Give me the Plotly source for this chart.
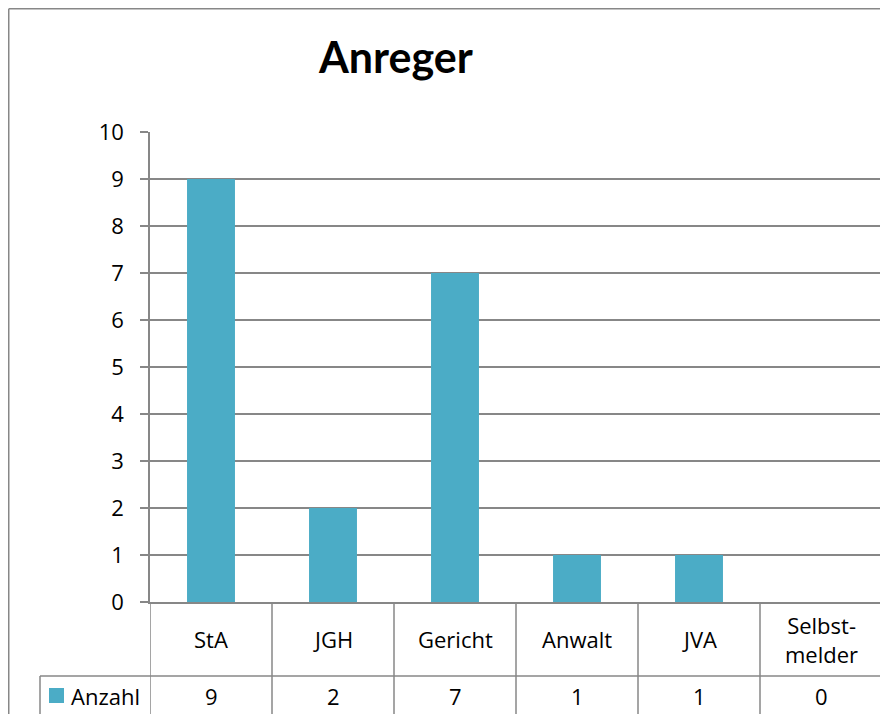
import plotly.graph_objects as go

# ---- data ----
categories = ["StA", "JGH", "Gericht", "Anwalt", "JVA", "Selbst-<br>melder"]
values = [9, 2, 7, 1, 1, 0]
series_name = "Anzahl"
title_text = "Anreger"
y_ticks = list(range(0, 11))

# ---- styling / layout constants ----
OFF = 8            # page body margin
W, H = 880, 706    # figure size so that page fits 888x714
BAR_COLOR = "#4BACC6"
LINE_COLOR = "#878787"
FONT = "Open Sans"
FS = 22

def px(x):
    return (x - OFF) / W

def py(y):
    return 1 - (y - OFF) / H

PLOT_L, PLOT_R, PLOT_T, PLOT_B = 150, 882, 132, 602
ROW1_B = 676  # bottom of category row
LEG_L = 40

fig = go.Figure()
fig.add_trace(go.Bar(
    x=list(range(len(categories))),
    y=values,
    name=series_name,
    marker=dict(color=BAR_COLOR, line=dict(width=0)),
    showlegend=False,
))

shapes = []
annotations = []

# outer chart border (top & left visible)
shapes.append(dict(type="line", xref="paper", yref="paper", x0=px(8.75), x1=px(900), y0=py(8.75), y1=py(8.75),
                   line=dict(color=LINE_COLOR, width=1.5)))
shapes.append(dict(type="line", xref="paper", yref="paper", x0=px(8.75), x1=px(8.75), y0=py(8.75), y1=py(730),
                   line=dict(color=LINE_COLOR, width=1.5)))

n = len(categories)
# data table vertical lines (category boundaries)
for i in range(n + 1):
    shapes.append(dict(type="line", xref="x", yref="paper", x0=i - 0.5, x1=i - 0.5,
                       y0=py(PLOT_B), y1=py(730), line=dict(color=LINE_COLOR, width=1.5)))
# horizontal line between category row and value row
shapes.append(dict(type="line", xref="paper", yref="paper", x0=px(LEG_L), x1=px(PLOT_R),
                   y0=py(ROW1_B), y1=py(ROW1_B), line=dict(color=LINE_COLOR, width=1.5)))
# legend cell left border
shapes.append(dict(type="line", xref="paper", yref="paper", x0=px(LEG_L), x1=px(LEG_L),
                   y0=py(ROW1_B), y1=py(730), line=dict(color=LINE_COLOR, width=1.5)))
# legend key
shapes.append(dict(type="rect", xref="paper", yref="paper", x0=px(49), x1=px(64), y0=py(688), y1=py(703),
                   fillcolor=BAR_COLOR, line=dict(width=0)))

for i, (c, v) in enumerate(zip(categories, values)):
    annotations.append(dict(x=i, xref="x", y=py((PLOT_B + ROW1_B) / 2), yref="paper", text=c,
                            showarrow=False, xanchor="center", yanchor="middle",
                            font=dict(family=FONT, size=FS, color="black")))
    annotations.append(dict(x=i, xref="x", y=py(696), yref="paper", text=str(v),
                            showarrow=False, xanchor="center", yanchor="middle",
                            font=dict(family=FONT, size=FS, color="black")))

annotations.append(dict(x=px(69), xref="paper", y=py(696), yref="paper", text=series_name,
                        showarrow=False, xanchor="left", yanchor="middle",
                        font=dict(family=FONT, size=FS, color="black")))
annotations.append(dict(x=px(395), xref="paper", y=py(57), yref="paper", text="<b>" + title_text + "</b>",
                        showarrow=False, xanchor="center", yanchor="middle",
                        font=dict(family="Lato", size=43, color="black")))

fig.update_layout(
    width=W, height=H,
    margin=dict(l=0, r=0, t=0, b=0, autoexpand=False),
    paper_bgcolor="white", plot_bgcolor="white",
    bargap=0.607,
    shapes=shapes,
    annotations=annotations,
    xaxis=dict(domain=[px(PLOT_L), px(PLOT_R)], range=[-0.5, n - 0.5], automargin=False,
               showticklabels=False, showgrid=False, zeroline=False,
               showline=True, linecolor=LINE_COLOR, linewidth=1.5, ticks="", fixedrange=True),
    yaxis=dict(domain=[py(PLOT_B), py(PLOT_T)], range=[0, 10], tickvals=y_ticks, automargin=False,
               showgrid=True, gridcolor=LINE_COLOR, gridwidth=1.5, zeroline=False,
               showline=True, linecolor=LINE_COLOR, linewidth=1.5,
               ticks="outside", ticklen=8, tickcolor=LINE_COLOR, tickwidth=1.5,
               tickfont=dict(family=FONT, size=FS, color="black"), ticklabelstandoff=12),
)

fig.write_html("out.html")
